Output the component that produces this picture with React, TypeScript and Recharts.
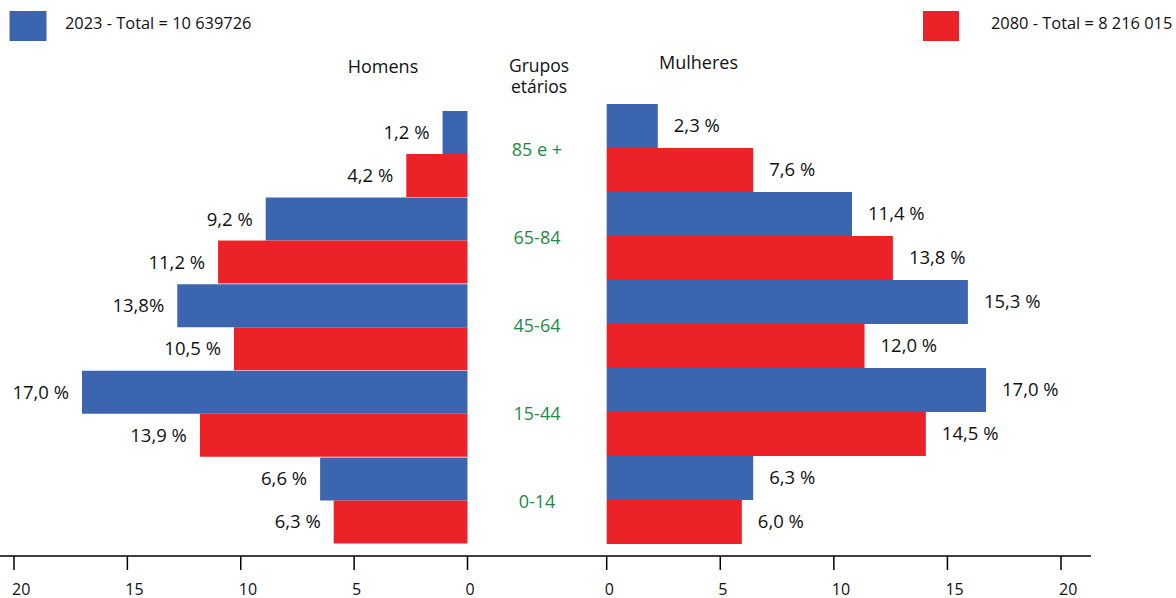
import React from 'react';
import { BarChart, Bar, XAxis, YAxis, LabelList } from 'recharts';

// ---- data ----
const groups = ['85 e +', '65-84', '45-64', '15-44', '0-14'];
const homens2023 = [1.1, 8.9, 12.8, 17.0, 6.5];
const homens2080 = [2.7, 11.0, 10.3, 11.8, 5.9];
const mulheres2023 = [2.25, 10.8, 15.9, 16.7, 6.45];
const mulheres2080 = [6.45, 12.6, 11.35, 14.05, 5.95];
const homens2023Labels = ['1,2 %', '9,2 %', '13,8%', '17,0 %', '6,6 %'];
const homens2080Labels = ['4,2 %', '11,2 %', '10,5 %', '13,9 %', '6,3 %'];
const mulheres2023Labels = ['2,3 %', '11,4 %', '15,3 %', '17,0 %', '6,3 %'];
const mulheres2080Labels = ['7,6 %', '13,8 %', '12,0 %', '14,5 %', '6,0 %'];
const xTicks = [0, 5, 10, 15, 20];
const legend2023 = '2023 - Total = 10 639726';
const legend2080 = '2080 - Total = 8 216 015';
const titleHomens = 'Homens';
const titleGrupos = ['Grupos', 'etários'];
const titleMulheres = 'Mulheres';

const BLUE = '#3b65af';
const RED = '#ec2229';
const GREEN = '#1e8a45';
const FONT = '"Open Sans", sans-serif';

const homensData = groups.map((g, i) => ({
  group: g,
  v2023: homens2023[i],
  v2080: homens2080[i],
  l2023: homens2023Labels[i],
  l2080: homens2080Labels[i],
}));
const mulheresData = groups.map((g, i) => ({
  group: g,
  v2023: mulheres2023[i],
  v2080: mulheres2080[i],
  l2023: mulheres2023Labels[i],
  l2080: mulheres2080Labels[i],
}));

const AxisTick = (props: any) => {
  const { x, y, payload } = props;
  return (
    <text x={Number(x) - 2} y={y} dy="0.71em" textAnchor="start" fontSize={16} fontFamily={FONT} fill="#111">
      {payload.value}
    </text>
  );
};

const GroupTick = (props: any) => {
  const { x, y, payload } = props;
  return (
    <text x={x} y={Number(y) + 2} dy="0.35em" textAnchor="middle" fontSize={18} fontFamily={FONT} fill={GREEN}>
      {payload.value}
    </text>
  );
};

const makeLabel = (side: 'left' | 'right') => (props: any) => {
  const { x, y, width, height, value } = props;
  const a = Number(x);
  const b = Number(x) + Number(width);
  const tip = side === 'left' ? Math.min(a, b) : Math.max(a, b);
  const tx = side === 'left' ? tip - 13 : tip + 16;
  return (
    <text
      x={tx}
      y={Number(y) + Number(height) / 2}
      dy="0.35em"
      textAnchor={side === 'left' ? 'end' : 'start'}
      fontSize={18.5}
      fontFamily={FONT}
      fill="#111"
    >
      {value}
    </text>
  );
};

const leftLabel = makeLabel('left');
const rightLabel = makeLabel('right');

const axisStyle = { stroke: '#000', strokeWidth: 1.5 };

export default function App() {
  return (
    <div style={{ position: 'absolute', left: 0, top: 0, width: 1176, height: 598, background: '#fff', fontFamily: FONT }}>
      <svg width={1176} height={598} style={{ position: 'absolute', left: 0, top: 0 }}>
        <rect x={9.5} y={11} width={37} height={30} fill={BLUE} />
        <text x={65} y={28.5} fontSize={16.4} fontFamily={FONT} fill="#111">{legend2023}</text>
        <rect x={923} y={11} width={36} height={30} fill={RED} />
        <text x={991} y={28.5} fontSize={16.4} fontFamily={FONT} fill="#111">{legend2080}</text>
        <text x={383} y={73} textAnchor="middle" fontSize={18} fontFamily={FONT} fill="#111">{titleHomens}</text>
        <text x={539} y={72} textAnchor="middle" fontSize={17.5} fontFamily={FONT} fill="#111">{titleGrupos[0]}</text>
        <text x={539} y={93} textAnchor="middle" fontSize={17.5} fontFamily={FONT} fill="#111">{titleGrupos[1]}</text>
        <text x={698.5} y={69} textAnchor="middle" fontSize={18} fontFamily={FONT} fill="#111">{titleMulheres}</text>
      </svg>

      <div style={{ position: 'absolute', left: 0, top: 0 }}>
        <BarChart
          width={537}
          height={598}
          data={homensData}
          layout="vertical"
          margin={{ top: 111, right: 0, bottom: 0, left: 0 }}
          barGap={0}
          barCategoryGap={0}
        >
          <XAxis
            type="number"
            domain={[-3.065, 20.617]}
            reversed
            allowDataOverflow
            ticks={xTicks}
            interval={0}
            tick={<AxisTick />}
            tickSize={14}
            tickMargin={14}
            height={42}
            axisLine={axisStyle}
            tickLine={axisStyle}
          />
          <YAxis type="category" dataKey="group" hide padding={{ top: 0, bottom: 12 }} />
          <Bar dataKey="v2023" fill={BLUE} isAnimationActive={false}>
            <LabelList dataKey="l2023" content={leftLabel} />
          </Bar>
          <Bar dataKey="v2080" fill={RED} isAnimationActive={false}>
            <LabelList dataKey="l2080" content={leftLabel} />
          </Bar>
        </BarChart>
      </div>

      <div style={{ position: 'absolute', left: 468, top: 0 }}>
        <BarChart
          width={623}
          height={598}
          data={mulheresData}
          layout="vertical"
          margin={{ top: 104, right: 0, bottom: 0, left: 0 }}
          barGap={0}
          barCategoryGap={0}
        >
          <XAxis
            type="number"
            domain={[-3.068, 21.32]}
            allowDataOverflow
            ticks={xTicks}
            interval={0}
            tick={<AxisTick />}
            tickSize={14}
            tickMargin={14}
            height={42}
            axisLine={axisStyle}
            tickLine={axisStyle}
          />
          <YAxis
            type="category"
            dataKey="group"
            width={69}
            axisLine={false}
            tickLine={false}
            tickSize={0}
            tickMargin={0}
            tick={<GroupTick />}
            interval={0}
            padding={{ top: 0, bottom: 12 }}
          />
          <Bar dataKey="v2023" fill={BLUE} isAnimationActive={false}>
            <LabelList dataKey="l2023" content={rightLabel} />
          </Bar>
          <Bar dataKey="v2080" fill={RED} isAnimationActive={false}>
            <LabelList dataKey="l2080" content={rightLabel} />
          </Bar>
        </BarChart>
      </div>
    </div>
  );
}
